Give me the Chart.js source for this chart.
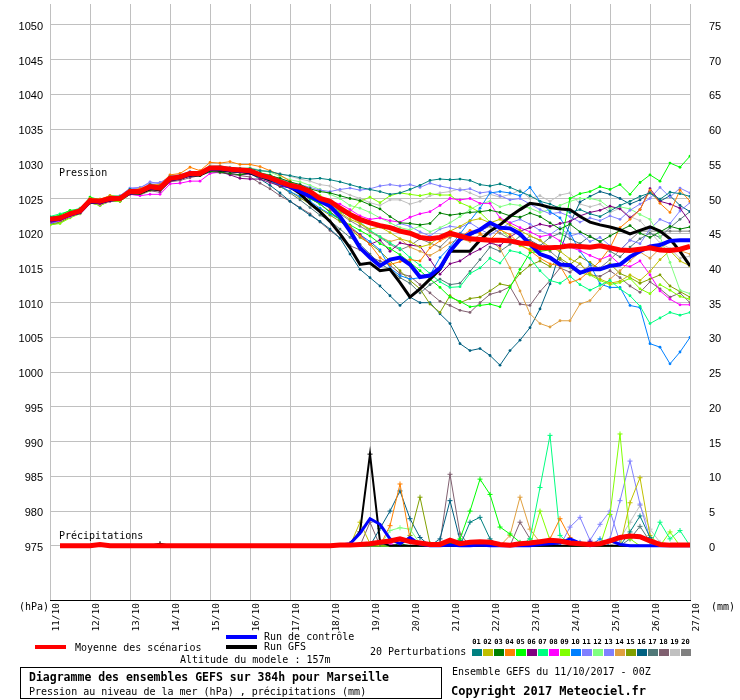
<!DOCTYPE html>
<html>
<head>
<meta charset="utf-8">
<script src="https://cdn.jsdelivr.net/npm/chart.js@4"></script>
<style>
  body { margin: 0; background: #fff; }
  #wrap { position: relative; width: 740px; height: 700px; font-family: "DejaVu Sans Mono", monospace; font-size: 10px; color: #000; }
  #chart { position: absolute; left: 0; top: 0; }
  .t { position: absolute; white-space: nowrap; line-height: 10px; }
  .b { font-weight: bold; }
  .sample { position: absolute; height: 4px; }
  .pbox { position: absolute; top: 649px; width: 10px; height: 7px; }
  .pnum { position: absolute; top: 639px; width: 11px; font-size: 7px; font-weight: bold; line-height: 7px; text-align: center; }
  #box { position: absolute; left: 20px; top: 667px; width: 420px; height: 30px; border: 1px solid #000; }
</style>
</head>
<body>
<div id="wrap">
  <canvas id="chart" width="740" height="700"></canvas>
  <div class="t" style="left:59px;top:168px;">Pression</div>
  <div class="t" style="left:59px;top:531px;">Précipitations</div>
  <div class="t" style="left:19px;top:602px;">(hPa)</div>
  <div class="t" style="left:711px;top:602px;">(mm)</div>
  <div class="sample" style="left:35px;top:645px;width:31px;background:#ff0000;"></div>
  <div class="t" style="left:75px;top:643px;">Moyenne des scénarios</div>
  <div class="sample" style="left:226px;top:635px;width:31px;background:#0000ff;"></div>
  <div class="t" style="left:264px;top:632px;">Run de contrôle</div>
  <div class="sample" style="left:226px;top:645px;width:31px;background:#000;"></div>
  <div class="t" style="left:264px;top:642px;">Run GFS</div>
  <div class="t" style="left:180px;top:655px;">Altitude du modele : 157m</div>
  <div class="t" style="left:370px;top:647px;">20 Perturbations</div>
  <div id="perts"></div>
  <div id="box"></div>
  <div class="t b" style="left:29px;top:672px;font-size:11.5px;">Diagramme des ensembles GEFS sur 384h pour Marseille</div>
  <div class="t" style="left:29px;top:687px;">Pression au niveau de la mer (hPa) , précipitations (mm)</div>
  <div class="t" style="left:452px;top:667px;">Ensemble GEFS du 11/10/2017 - 00Z</div>
  <div class="t b" style="left:451px;top:686px;font-size:12px;">Copyright 2017 Meteociel.fr</div>
</div>
<script>
// time axis: one point every 6h over 384h
const days = ['11/10', '12/10', '13/10', '14/10', '15/10', '16/10', '17/10', '18/10', '19/10',
  '20/10', '21/10', '22/10', '23/10', '24/10', '25/10', '26/10', '27/10'];
const hours = [];
for (let h = 0; h <= 384; h += 6) hours.push(h);

const pressTicks = [975, 980, 985, 990, 995, 1000, 1005, 1010, 1015, 1020, 1025, 1030, 1035, 1040, 1045, 1050];
const rainTicks = [0, 5, 10, 15, 20, 25, 30, 35, 40, 45, 50, 55, 60, 65, 70, 75];

const pertNames = ['01', '02', '03', '04', '05', '06', '07', '08', '09', '10',
  '11', '12', '13', '14', '15', '16', '17', '18', '19', '20'];
const pertColors = ['#008080', '#c0c000', '#008000', '#ff8000', '#00ff00', '#800080', '#00ff80', '#ff00ff', '#80ff00', '#0080ff',
  '#8080ff', '#80ff80', '#8080ff', '#e0a040', '#80a000', '#006080', '#507878', '#806070', '#c0c0c0', '#808080'];

// pressure (hPa)
const pressMean = [1022.0,1022.2,1022.8,1023.2,1024.7, 1024.6,1025.0,1025.0,1026.0,1026.0, 1026.7,1026.5,1027.9,1028.1,1028.6,
  1028.6,1029.4,1029.4,1029.2,1029.1, 1029.0,1028.4,1028.0,1027.4,1026.9, 1026.6,1026.0,1025.0,1024.6,1023.6,
  1022.7,1022.0,1021.5,1021.1,1020.8, 1020.3,1020.0,1019.4,1019.2,1019.4, 1020.0,1019.6,1019.2,1019.1,1019.0,
  1019.0,1018.9,1018.6,1018.5,1017.9, 1017.9,1018.0,1018.2,1018.1,1018.0, 1018.2,1017.9,1017.6,1017.5,1017.7,
  1017.9,1017.6,1017.5,1017.7,1018.1];
const pressCtrl = [1021.8,1022.1,1022.7,1023.1,1024.6, 1024.5,1024.9,1025.0,1025.9,1026.0, 1026.6,1026.5,1027.8,1028.0,1028.5,
  1028.6,1029.3,1029.3,1029.1,1029.0, 1028.9,1028.3,1027.9,1027.2,1026.7, 1026.0,1025.3,1024.6,1023.9,1022.4,
  1020.3,1017.9,1016.5,1015.3,1016.2, 1016.5,1015.5,1013.7,1013.9,1015.0, 1017.4,1019.1,1019.9,1020.5,1021.5,
  1020.8,1020.7,1019.9,1018.4,1017.0, 1016.5,1015.5,1015.4,1014.3,1014.8, 1014.8,1015.3,1015.5,1016.6,1017.4,
  1018.1,1018.3,1018.9,1019.0,1019.0];
const pressGfs = [1021.9,1022.0,1022.7,1023.0,1024.5, 1024.4,1024.8,1024.9,1025.8,1025.8, 1026.4,1026.3,1027.7,1027.9,1028.4,
  1028.4,1029.2,1029.1,1029.0,1028.9, 1028.7,1028.2,1027.7,1027.3,1026.7, 1025.7,1024.3,1023.1,1021.7,1019.9,
  1017.9,1015.5,1015.7,1014.6,1014.8, 1012.9,1010.8,1012.0,1013.4,1014.8, 1017.4,1017.4,1017.4,1019.0,1020.3,
  1021.2,1022.4,1023.4,1024.3,1024.1, 1023.7,1023.5,1023.4,1022.4,1021.6, 1021.2,1020.9,1020.5,1019.9,1020.4,
  1020.9,1020.3,1019.2,1017.4,1015.3];

const pressP01 = [1022.3,1022.4,1023.0,1023.4,1024.9, 1024.5,1025.2,1025.1,1026.3,1026.2, 1027.0,1026.8,1028.1,1028.3,1028.7,
  1028.8,1029.5,1029.6,1029.4,1029.3, 1029.3,1029.0,1028.9,1028.5,1028.3, 1028.0,1027.8,1027.9,1027.7,1027.4,
  1027.0,1026.6,1026.3,1026.0,1025.6, 1025.8,1026.3,1026.9,1027.6,1027.8, 1027.7,1027.8,1027.6,1027.0,1026.8,
  1027.1,1026.6,1026.0,1025.4,1024.6, 1024.2,1023.6,1023.0,1023.4,1022.8, 1022.4,1023.2,1024.0,1024.6,1025.3,
  1025.8,1024.9,1025.9,1025.7,1025.3];
const pressP02 = [1021.6,1021.9,1022.6,1023.0,1024.5, 1024.4,1024.8,1024.8,1025.8,1025.8, 1026.5,1026.3,1027.7,1027.9,1028.4,
  1028.4,1029.2,1029.2,1029.0,1028.9, 1028.8,1028.2,1027.6,1027.0,1026.6, 1026.0,1025.4,1024.7,1023.9,1023.0,
  1022.0,1021.4,1020.6,1020.9,1020.1, 1019.2,1018.8,1018.0,1018.4,1019.5, 1020.3,1021.0,1021.8,1022.1,1021.5,
  1022.0,1021.2,1020.4,1019.6,1019.0, 1018.0,1017.4,1016.3,1015.6,1014.2, 1013.4,1012.8,1013.1,1014.0,1013.2,
  1014.5,1016.2,1017.5,1016.0,1015.3];
const pressP03 = [1021.9,1022.1,1022.8,1023.1,1024.6, 1024.6,1024.9,1025.0,1025.9,1025.9, 1026.6,1026.4,1027.8,1028.0,1028.4,
  1028.3,1028.9,1028.8,1028.6,1028.4, 1028.6,1028.6,1028.3,1027.9,1027.4, 1027.0,1026.4,1026.0,1025.8,1025.4,
  1025.0,1024.7,1024.1,1023.5,1022.4, 1021.5,1021.4,1021.2,1021.4,1022.9, 1022.6,1022.8,1023.0,1023.1,1023.3,
  1023.0,1022.5,1022.3,1022.9,1022.4, 1021.5,1020.6,1021.3,1020.2,1019.5, 1018.8,1019.6,1020.4,1021.1,1020.0,
  1019.4,1020.2,1021.0,1020.6,1020.9];
const pressP04 = [1021.8,1022.3,1022.9,1023.5,1025.0, 1024.9,1025.4,1025.2,1026.2,1026.4, 1027.0,1027.0,1028.4,1028.6,1029.5,
  1029.0,1030.2,1030.1,1030.3,1029.9, 1029.9,1029.6,1029.0,1028.4,1027.5, 1026.6,1025.6,1024.8,1023.5,1022.4,
  1021.0,1019.6,1018.4,1016.5,1015.5, 1015.9,1016.2,1016.0,1017.9,1018.9, 1019.6,1019.4,1020.4,1020.0,1019.0,
  1020.5,1019.8,1018.4,1017.5,1016.4, 1015.6,1015.3,1012.9,1013.4,1014.6, 1016.0,1017.9,1020.8,1022.0,1023.4,
  1026.2,1024.3,1023.0,1026.2,1024.6];
const pressP05 = [1022.3,1022.6,1023.3,1023.4,1025.2, 1024.8,1025.4,1025.3,1026.1,1026.3, 1026.9,1026.8,1028.0,1028.3,1028.6,
  1028.9,1029.5,1029.2,1029.0,1028.9, 1028.8,1028.5,1028.2,1027.3,1026.8, 1026.0,1025.0,1024.2,1023.0,1022.0,
  1021.2,1020.4,1019.6,1018.5,1017.8, 1016.9,1015.8,1014.6,1013.4,1012.2, 1010.8,1010.2,1009.4,1009.6,1009.8,
  1009.4,1012.2,1014.8,1017.2,1017.4, 1017.6,1018.0,1025.0,1025.7,1026.0, 1026.7,1026.3,1027.0,1025.6,1027.3,
  1028.4,1027.5,1030.1,1029.5,1031.1];
const pressP06 = [1021.6,1021.9,1022.5,1023.0,1024.4, 1024.3,1024.7,1024.8,1025.7,1025.7, 1026.3,1026.1,1027.5,1027.8,1028.2,
  1028.3,1029.0,1028.9,1028.4,1027.9, 1027.8,1027.8,1027.3,1026.8,1026.5, 1025.8,1025.0,1024.2,1023.1,1022.0,
  1020.7,1019.8,1018.4,1019.0,1017.4, 1018.6,1018.3,1018.1,1016.2,1014.1, 1015.6,1016.0,1017.0,1017.7,1018.6,
  1018.2,1019.5,1020.3,1020.8,1021.3, 1021.0,1021.4,1021.7,1022.5,1023.0, 1023.3,1023.9,1023.5,1022.2,1023.4,
  1026.4,1024.6,1024.2,1023.6,1021.6];
const pressP07 = [1022.4,1022.8,1023.2,1023.6,1025.0, 1024.9,1025.2,1025.2,1026.3,1026.1, 1026.8,1026.6,1028.2,1028.2,1028.8,
  1028.7,1029.6,1029.5,1029.3,1029.3, 1029.2,1028.7,1028.4,1027.7,1027.0, 1026.5,1025.6,1024.9,1024.0,1023.1,
  1022.5,1021.6,1020.4,1019.5,1018.6, 1017.8,1016.5,1015.4,1014.2,1013.0, 1012.2,1012.3,1014.2,1015.0,1016.4,
  1015.7,1017.5,1017.2,1016.4,1014.6, 1013.2,1012.8,1013.8,1012.6,1011.8, 1012.5,1013.2,1012.0,1011.0,1009.5,
  1007.0,1007.8,1008.6,1008.2,1008.6];
const pressP08 = [1021.5,1021.8,1022.4,1022.9,1024.4, 1024.2,1024.6,1024.8,1025.6,1025.4, 1025.6,1025.6,1027.1,1027.2,1027.5,
  1027.5,1028.6,1028.8,1028.6,1028.4, 1028.5,1028.2,1027.8,1027.4,1026.8, 1026.2,1025.7,1025.0,1024.6,1024.2,
  1023.4,1022.5,1022.0,1022.2,1021.8, 1021.6,1022.3,1022.8,1023.1,1024.0, 1025.0,1024.8,1025.0,1024.3,1024.3,
  1022.2,1021.5,1020.8,1020.2,1019.5, 1019.8,1018.9,1018.0,1017.5,1016.8, 1016.2,1016.8,1015.5,1015.2,1016.0,
  1014.0,1011.7,1010.5,1009.7,1009.7];
const pressP09 = [1021.2,1021.4,1022.2,1022.8,1024.4, 1024.0,1024.6,1024.6,1025.6,1025.6, 1026.2,1026.3,1027.5,1027.9,1028.3,
  1028.4,1029.1,1029.1,1028.9,1028.8, 1028.7,1028.2,1027.8,1027.2,1026.8, 1026.5,1026.0,1025.4,1024.5,1023.6,
  1023.1,1024.6,1025.2,1024.4,1025.4, 1025.8,1025.6,1025.4,1025.7,1025.5, 1025.5,1024.4,1023.8,1023.0,1021.6,
  1020.6,1019.3,1018.2,1017.7,1016.9, 1016.5,1015.6,1015.2,1014.3,1014.0, 1013.2,1012.6,1012.9,1013.5,1012.0,
  1011.3,1012.6,1011.8,1010.9,1010.5];
const pressP10 = [1021.4,1021.8,1022.6,1023.0,1024.4, 1024.4,1024.9,1024.8,1025.9,1025.8, 1026.5,1026.3,1027.8,1028.0,1028.4,
  1028.5,1029.2,1029.2,1029.0,1028.9, 1028.7,1028.1,1027.5,1026.8,1026.0, 1025.3,1024.6,1023.6,1022.8,1022.0,
  1021.0,1019.8,1018.8,1017.6,1015.0, 1013.9,1013.4,1013.6,1014.0,1016.5, 1018.0,1019.9,1021.8,1023.6,1025.8,
  1026.0,1025.8,1025.4,1026.6,1024.6, 1023.1,1022.2,1020.0,1017.4,1015.5, 1012.7,1012.2,1012.2,1009.6,1009.3,
  1004.1,1003.6,1001.2,1002.9,1005.0];
const pressP11 = [1021.7,1022.0,1022.7,1023.3,1024.8, 1024.8,1025.3,1025.4,1026.5,1026.6, 1027.2,1027.3,1028.1,1028.2,1028.5,
  1028.7,1029.1,1029.0,1028.9,1028.9, 1028.8,1028.5,1028.1,1027.6,1027.3, 1027.0,1026.6,1026.2,1026.0,1026.3,
  1026.5,1026.2,1026.4,1026.8,1027.0, 1026.8,1027.0,1026.6,1027.2,1026.8, 1026.5,1026.2,1026.4,1025.8,1026.0,
  1025.4,1024.8,1025.0,1024.2,1023.4, 1022.8,1023.0,1022.4,1021.6,1022.2, 1021.8,1022.5,1022.0,1023.3,1024.2,
  1025.0,1026.6,1025.2,1026.5,1025.8];
const pressP12 = [1022.2,1022.5,1023.1,1023.4,1024.9, 1024.8,1025.1,1025.2,1026.2,1026.3, 1026.9,1026.8,1028.0,1028.2,1028.7,
  1028.8,1029.4,1029.6,1029.3,1029.3, 1029.4,1029.0,1028.8,1028.2,1027.7, 1027.4,1026.9,1026.3,1025.6,1025.0,
  1024.0,1023.6,1023.0,1022.2,1021.5, 1020.8,1020.5,1021.0,1020.2,1020.8, 1021.5,1022.4,1023.4,1024.2,1024.6,
  1023.8,1024.2,1024.0,1023.6,1023.0, 1023.4,1024.0,1024.6,1025.0,1025.0, 1024.7,1023.6,1023.8,1023.5,1022.7,
  1022.0,1019.5,1015.8,1011.8,1011.3];
const pressP13 = [1022.0,1022.1,1022.7,1023.2,1024.6, 1024.7,1025.1,1025.1,1026.4,1026.5, 1027.4,1027.1,1028.3,1028.4,1028.9,
  1028.7,1029.1,1029.2,1029.0,1028.9, 1028.9,1028.6,1028.2,1027.9,1027.4, 1026.6,1025.9,1025.1,1024.2,1023.4,
  1022.6,1021.8,1021.5,1021.0,1020.7, 1021.4,1021.0,1020.2,1019.6,1020.6, 1021.0,1020.8,1021.5,1020.6,1019.8,
  1020.6,1021.5,1022.0,1021.3,1020.4, 1019.8,1020.8,1019.6,1020.0,1018.8, 1019.4,1018.2,1017.5,1019.0,1018.5,
  1020.6,1022.0,1021.4,1023.2,1024.4];
const pressP14 = [1021.9,1022.1,1022.6,1023.1,1024.6, 1024.5,1024.8,1025.0,1025.8,1025.9, 1026.5,1026.4,1027.7,1027.8,1028.3,
  1028.4,1029.2,1029.3,1029.1,1029.0, 1029.1,1028.7,1028.3,1027.8,1027.2, 1026.4,1025.7,1025.0,1024.2,1023.2,
  1022.4,1021.4,1020.3,1019.5,1018.8, 1019.2,1018.0,1017.4,1016.8,1017.6, 1018.6,1019.2,1018.8,1019.8,1019.0,
  1017.8,1015.0,1011.7,1008.4,1007.0, 1006.5,1007.4,1007.4,1009.8,1010.3, 1012.0,1013.4,1014.6,1016.0,1017.3,
  1016.4,1017.8,1018.8,1017.5,1017.0];
const pressP15 = [1021.3,1021.6,1022.3,1022.9,1024.3, 1024.2,1024.8,1024.6,1025.6,1025.7, 1026.4,1026.2,1027.6,1027.9,1028.4,
  1028.4,1029.1,1029.0,1028.8,1028.7, 1028.6,1028.0,1027.5,1026.7,1026.0, 1025.1,1024.2,1023.5,1022.6,1021.7,
  1020.6,1019.4,1018.5,1017.4,1016.0, 1014.6,1013.2,1012.0,1009.8,1008.6, 1011.0,1010.0,1010.6,1010.8,1011.7,
  1012.7,1012.4,1014.2,1015.4,1016.0, 1015.2,1016.4,1015.5,1016.6,1015.8, 1014.8,1015.6,1014.2,1013.6,1012.8,
  1013.4,1014.0,1012.4,1011.6,1010.8];
const pressP16 = [1021.6,1021.9,1022.6,1023.1,1024.5, 1024.3,1024.8,1024.9,1025.8,1025.8, 1026.4,1026.4,1027.7,1027.9,1028.4,
  1028.5,1029.2,1029.2,1028.9,1028.8, 1028.6,1027.8,1026.9,1025.8,1024.6, 1023.6,1022.6,1021.7,1020.6,1019.3,
  1017.0,1014.8,1013.6,1012.4,1011.0, 1009.6,1010.8,1010.0,1010.0,1008.4, 1007.0,1004.1,1003.1,1003.4,1002.4,
  1001.0,1003.1,1004.6,1006.4,1009.1, 1012.7,1017.4,1021.4,1024.5,1025.3, 1026.0,1025.6,1025.0,1024.2,1024.8,
  1025.8,1024.6,1025.4,1024.0,1023.1];
const pressP17 = [1021.8,1022.0,1022.6,1023.1,1024.6, 1024.5,1024.9,1025.0,1025.9,1026.0, 1026.6,1026.5,1027.8,1028.0,1028.5,
  1028.4,1029.2,1029.4,1029.2,1029.0, 1028.9,1028.3,1027.6,1026.8,1025.8, 1024.8,1023.7,1022.6,1021.8,1020.6,
  1019.4,1018.4,1017.0,1015.6,1014.8, 1013.6,1012.8,1011.4,1012.6,1013.4, 1012.6,1012.8,1014.5,1016.2,1018.0,
  1017.4,1018.4,1019.6,1019.0,1018.2, 1019.4,1020.0,1019.2,1018.5,1019.6, 1018.8,1017.4,1016.6,1018.0,1019.2,
  1020.0,1019.4,1020.8,1022.0,1023.1];
const pressP18 = [1021.2,1021.5,1022.4,1022.8,1024.4, 1024.0,1024.6,1024.6,1025.6,1025.5, 1026.1,1025.9,1027.4,1027.6,1028.0,
  1028.3,1028.8,1028.7,1028.5,1028.3, 1028.1,1027.2,1026.4,1025.4,1024.6, 1023.7,1022.8,1021.6,1020.4,1019.3,
  1018.2,1017.6,1016.6,1016.0,1015.4, 1014.2,1013.8,1012.6,1011.4,1010.2, 1009.6,1008.9,1008.6,1010.0,1011.2,
  1011.6,1012.3,1009.8,1009.6,1011.6, 1013.2,1015.0,1014.4,1015.6,1014.0, 1013.8,1014.6,1013.6,1012.4,1011.5,
  1013.0,1012.0,1010.8,1011.4,1010.0];
const pressP19 = [1022.1,1022.3,1022.9,1023.2,1024.8, 1024.7,1025.2,1025.1,1026.2,1026.1, 1026.8,1026.7,1028.0,1028.3,1028.8,
  1028.9,1029.8,1029.7,1029.5,1029.4, 1029.4,1029.1,1028.8,1028.6,1028.2, 1027.8,1027.5,1027.0,1026.8,1026.1,
  1025.5,1025.0,1024.4,1024.0,1024.8, 1024.8,1024.2,1024.6,1025.4,1025.8, 1026.0,1026.4,1025.8,1025.2,1025.6,
  1025.2,1025.6,1026.2,1025.0,1025.4, 1024.6,1025.5,1025.8,1024.2,1023.8, 1024.2,1023.0,1023.6,1022.4,1021.8,
  1020.2,1018.6,1017.8,1016.4,1016.7];
const pressP20 = [1021.9,1022.0,1022.7,1023.1,1024.5, 1024.4,1024.9,1024.9,1025.8,1025.9, 1026.6,1026.5,1027.8,1028.1,1028.6,
  1028.6,1029.6,1029.7,1029.4,1029.2, 1029.1,1028.6,1028.0,1027.2,1026.6, 1025.8,1025.2,1024.6,1023.7,1022.8,
  1021.8,1021.0,1020.2,1019.4,1018.4, 1017.6,1018.2,1019.2,1018.6,1018.0, 1019.4,1020.0,1019.6,1020.4,1021.0,
  1020.0,1019.2,1018.4,1019.6,1019.0, 1017.4,1016.2,1015.0,1014.2,1015.4, 1015.0,1016.2,1017.6,1019.0,1020.3,
  1020.3,1020.3,1020.3,1020.3,1020.3];

// 6h precipitation (mm), no value at the start time
const rainMean = [null,0,0,0,0,0.2,0,0,0,0,0,0,0,
  0,0,0,0,0,0,0,0,0,0,0,0,0,
  0,0,0,0.1,0.1,0.2,0.3,0.5,0.7,1.0,0.6,0.4,0.2,
  0.2,0.8,0.3,0.5,0.6,0.5,0.2,0.1,0.3,0.4,0.6,0.8,0.7,
  0.4,0.3,0.2,0.3,0.7,1.2,1.4,1.3,0.7,0.2,0.1,0.1,0.1];
const rainCtrl = [null,0,0,0,0,0.1,0,0,0,0,0,0,0,
  0,0,0,0,0,0,0,0,0,0,0,0,0,
  0,0,0,0.1,0.3,1.8,3.9,3.1,1.0,0.3,1.2,0.2,0,
  0,0.1,0,0,0.1,0,0,0,0,0,0.2,0.3,0.4,
  1.0,0.4,0,0.3,0.8,0.2,0,0,0,0,0,0,0];
const rainGfs = [null,0,0,0,0,0,0,0,0,0,0,0.3,0,
  0,0,0,0,0,0,0,0,0,0,0,0,0,
  0,0,0,0,0.3,2.0,13.2,0.6,0,0,0,0,0,
  0,0,0,0,0,0,0,0,0,0,0,0,0,
  0,0,0,0,0,0,0,0,0,0,0,0,0];

const rainP01 = [null,0,0,0,0,0,0,0,0,0,0,0,0, 0,0,0,0,0,0,0,0,0,0,0,0,0,
  0,0,0,0,0,0,0,0.3,0,0,0,0,0, 0,0,0,3.4,4.1,1.0,0,0,0,0,0,0,0, 0,0,0,0,0,0,2.0,4.3,1.2,0,0,0,0];
const rainP02 = [null,0,0,0,0,0,0,0,0,0,0,0,0, 0,0,0,0,0,0,0,0,0,0,0,0,0,
  0,0,0,0,0,3.4,0.3,0,0,0,0,0,0, 0,0,0,0,0,0,0,0,0,0,0,0,0, 0,0,0,0,0,0,6.2,9.8,1.5,0,0,0,0];
const rainP03 = [null,0,0,0,0,0,0,0,0,0,0,0,0, 0,0,0,0,0,0,0,0,0,0,0,0,0,
  0,0,0,0,0,0,0,0,0,0.3,0,0,0, 0,0.4,0,0,0,0,0,0,0,0,0,0.3,0, 0,0,0,0,0,0,0,0,0,0,0,0,0];
const rainP04 = [null,0,0,0,0,0,0,0,0,0,0,0,0, 0,0,0,0,0,0,0,0,0,0,0,0,0,
  0,0,0,0,0,0,0,0,2.9,8.9,1.0,0,0, 0,0,0,0,0,0,0,0,0,0,0,1.0,3.9, 1.2,0,0,0,0,0,0,0,0,0,0,0,0];
const rainP05 = [null,0,0,0,0,0,0,0,0,0,0,0,0, 0,0,0,0,0,0,0,0,0,0,0,0,0,
  0,0,0,0,0,0,0,0,0,0,0,0,0, 0,0,1.0,5.0,9.6,7.4,2.7,1.7,0.5,0,0,0,0, 0,0,0,0,0,0,0,0,0,0,0,0,0];
const rainP06 = [null,0,0,0,0,0,0,0,0,0,0,0,0, 0,0,0,0,0,0,0,0,0,0,0,0,0,
  0,0,0,0,0,0,0,0.2,0,0,0,0,0, 0,0,0,0,0,0,0,0,0,0,0,0,0, 0,0,0.6,0,0,0,0,0,0,0,0,0,0];
const rainP07 = [null,0,0,0,0,0,0,0,0,0,0,0,0, 0,0,0,0,0,0,0,0,0,0,0,0,0,
  0,0,0,0,0,0,0,0,0,0,0,0,0, 0,0,0,0,0,0,0,0,0,1.0,8.4,15.9,1.5, 0.2,0,0,0,0,0,0,0,0,3.4,1.0,2.2,0];
const rainP08 = [null,0,0,0,0,0,0,0,0,0,0,0,0, 0,0,0,0,0,0,0,0,0,0,0,0,0,
  0,0,0,0,0,0,0,0.5,0.3,0,0,0,0, 0,0,0,0,0,0,0,0,0,0,0,0,0, 0,0,0,0,0,0,0,0,0,0,0,0,0];
const rainP09 = [null,0,0,0,0,0,0,0,0,0,0,0,0, 0,0,0,0,0,0,0,0,0,0,0,0,0,
  0,0,0,0,0,0,0,0,0,0,0,0,0, 0,0,0,0,0,0,0,0,0,0,5.0,0.8,0, 0,0,0,0,4.5,16.1,1.0,0,0,0,2.0,0,0];
const rainP10 = [null,0,0,0,0,0,0,0,0,0,0,0,0, 0,0,0,0,0,0,0,0,0,0,0,0,0,
  0,0,0,0,0,0,0,0.4,0,0,0,0,0, 0,0,0,0,0,0,0,0,0,0,0,0,0, 0,0.5,0,1.0,0,0,0,0,0,0,0,0,0];
const rainP11 = [null,0,0,0,0,0,0,0,0,0,0,0,0, 0,0,0,0,0,0,0,0,0,0,0,0,0,
  0,0,0,0,0,0,0,0,0,0,0,0,0, 0,0,0,0,0,0,0,0,0,0,0,0,0, 2.7,4.1,0.8,3.1,5.0,0.5,0,0,0,0,0,0,0];
const rainP12 = [null,0,0,0,0,0,0,0,0,0,0,0,0, 0,0,0,0,0,0,0,0,0,0,0,0,0,
  0,0,0,0,0,0,0,0,2.2,2.6,2.4,0.3,0, 0,0,0,0,0,0,0,0,0,0,0,0,0, 0,0,0,0,0,0,0,0,0,0,0,0,0];
const rainP13 = [null,0,0,0,0,0,0,0,0,0,0,0,0, 0,0,0,0,0,0,0,0,0,0,0,0,0,
  0,0,0,0,0,0,0,0,0,0,0,0,0, 0,0,0,0,0,0,0,0,0,0,0,0,0, 0,0,0,0,1.0,6.5,12.2,6.0,1.0,0,0,0,0];
const rainP14 = [null,0,0,0,0,0,0,0,0,0,0,0,0, 0,0,0,0,0,0,0,0,0,0,0,0,0,
  0,0,0,0,0,0,0,0,0,0,0,0,0, 0,0,0,0,0,0,0,1.5,7.0,2.4,0.5,0,0, 0,0,0,0,0,0,0,0,0,0,0,0,0];
const rainP15 = [null,0,0,0,0,0,0,0,0,0,0,0,0, 0,0,0,0,0,0,0,0,0,0,0,0,0,
  0,0,0,0,0,0,0,0,0,0,1.5,7.0,0.3, 0,0,0,0,0,0,0,0,0,0,0,0,0, 0,0,0,0,0,0,0,0,0,0,0,0,0];
const rainP16 = [null,0,0,0,0,0,0,0,0,0,0,0,0, 0,0,0,0,0,0,0,0,0,0,0,0,0,
  0,0,0,0,0,0,0,2.5,5.0,7.9,3.9,1.2,0, 1.0,6.5,0.8,0,0,0,0,0,0,0,0,0,0, 0,0,0,0,0,0,0,0,0,0,0,0,0];
const rainP17 = [null,0,0,0,0,0,0,0,0,0,0,0,0, 0,0,0,0,0,0,0,0,0,0,0,0,0,
  0,0,0,0,0,0,0,0,0,0,0,0,0, 0,0,0,0,0,0,0,0,0,0,0,0,0, 0,0,0,0,0,0,1.0,2.8,0.6,0,0,0,0];
const rainP18 = [null,0,0,0,0,0,0,0,0,0,0,0,0, 0,0,0,0,0,0,0,0,0,0,0,0,0,
  0,0,0,0,0,0,3.4,0,0,0,0,0,0, 0.5,10.3,1.7,0,0,0,0,0,3.4,1.0,0,0,0, 0,0,0,0,0,0,0,0,0,0,0,0,0];
const rainP19 = [null,0,0,0,0,0,0,0,0,0,0,0,0, 0,0,0,0,0,0,0,0,0,0,0,0,0,
  0,0,0,0,0,0,0,0,0,0,0,0,0, 0,0,0,0,0,0,0,0,0,0,0,0,0, 0,0,0,0,0,1.0,3.4,5.8,2.4,0.5,0,0,0];
const rainP20 = [null,0,0,0,0,0,0,0,0,0,0,0,0, 0,0,0,0,0,0,0,0,0,0,0,0,0,
  0,0,0,0,0,0,0,0.4,0,0,0,0,0, 0,0,0,0,0,0,0,0,0,0,0.3,0,0, 0,0,0,0,0,0,0,0,0,0,0,0,0];

const pressPerts = [pressP01, pressP02, pressP03, pressP04, pressP05, pressP06, pressP07, pressP08, pressP09, pressP10,
  pressP11, pressP12, pressP13, pressP14, pressP15, pressP16, pressP17, pressP18, pressP19, pressP20];
const rainPerts = [rainP01, rainP02, rainP03, rainP04, rainP05, rainP06, rainP07, rainP08, rainP09, rainP10,
  rainP11, rainP12, rainP13, rainP14, rainP15, rainP16, rainP17, rainP18, rainP19, rainP20];

// legend boxes for the 20 members
const perts = document.getElementById('perts');
pertNames.forEach((name, k) => {
  const num = document.createElement('div');
  num.className = 'pnum';
  num.style.left = (471 + k * 11) + 'px';
  num.textContent = name;
  perts.appendChild(num);
  const box = document.createElement('div');
  box.className = 'pbox';
  box.style.left = (472 + k * 11) + 'px';
  box.style.background = pertColors[k];
  perts.appendChild(box);
});

function points(vals) {
  return vals.map((v, i) => ({ x: hours[i], y: v }));
}

// rain markers only where it actually rains
const rainMarker = ctx => (ctx.raw && ctx.raw.y > 0.05 ? 2.5 : 0);

const datasets = [
  { data: points(pressMean), yAxisID: 'y', borderColor: '#ff0000', borderWidth: 5, pointRadius: 0, order: 1 },
  { data: points(rainMean), yAxisID: 'y2', borderColor: '#ff0000', borderWidth: 5, pointRadius: 0, order: 1 },
  { data: points(pressCtrl), yAxisID: 'y', borderColor: '#0000ff', borderWidth: 4, pointRadius: 0, order: 2 },
  { data: points(rainCtrl), yAxisID: 'y2', borderColor: '#0000ff', borderWidth: 3, pointRadius: 0, order: 2 },
  { data: points(pressGfs), yAxisID: 'y', borderColor: '#000000', borderWidth: 3, pointRadius: 0, order: 3 },
  { data: points(rainGfs), yAxisID: 'y2', borderColor: '#000000', borderWidth: 2, pointStyle: 'cross',
    pointRadius: rainMarker, pointBorderColor: '#000000', pointBorderWidth: 1, order: 3 }
];
pressPerts.forEach((vals, k) => {
  datasets.push({
    data: points(vals), yAxisID: 'y', borderColor: pertColors[k], borderWidth: 1,
    pointRadius: 1.4, pointBackgroundColor: pertColors[k], pointBorderWidth: 0, order: 10 + k
  });
});
rainPerts.forEach((vals, k) => {
  datasets.push({
    data: points(vals), yAxisID: 'y2', borderColor: pertColors[k], borderWidth: 1, pointStyle: 'cross',
    pointRadius: rainMarker, pointBorderColor: pertColors[k], pointBorderWidth: 1, order: 10 + k
  });
});

const gridGrey = '#c0c0c0';
const tickFont = { family: 'Liberation Sans', size: 11 };

new Chart(document.getElementById('chart'), {
  type: 'line',
  data: { datasets: datasets },
  options: {
    responsive: false,
    animation: false,
    events: [],
    layout: { padding: 0 },
    elements: { line: { tension: 0, fill: false } },
    plugins: { legend: { display: false }, tooltip: { enabled: false } },
    scales: {
      x: {
        type: 'linear', min: 0, max: 384,
        afterBuildTicks: s => { s.ticks = days.map((d, k) => ({ value: k * 24 })); },
        afterFit: s => { s.height = 100; s.paddingLeft = 0; s.paddingRight = 0; },
        ticks: {
          callback: v => days[v / 24], autoSkip: false, minRotation: 90, maxRotation: 90,
          padding: 3, labelOffset: 7, color: '#000',
          font: { family: 'DejaVu Sans Mono', size: 9.5 }
        },
        grid: { color: gridGrey, drawTicks: false },
        border: { color: '#000', width: 1 }
      },
      y: {
        position: 'left', min: 967.2, max: 1053.0,
        afterBuildTicks: s => { s.ticks = pressTicks.map(v => ({ value: v })); },
        afterFit: s => { s.width = 50; s.paddingTop = 0; s.paddingBottom = 0; },
        ticks: { callback: v => String(v), padding: 7, labelOffset: 2, color: '#000', font: tickFont },
        grid: { color: gridGrey, drawTicks: false },
        border: { display: false }
      },
      y2: {
        position: 'right', min: -7.8, max: 78.0,
        afterBuildTicks: s => { s.ticks = rainTicks.map(v => ({ value: v })); },
        afterFit: s => { s.width = 50; s.paddingTop = 0; s.paddingBottom = 0; },
        ticks: { callback: v => String(v), padding: 19, labelOffset: 2, color: '#000', font: tickFont },
        grid: { display: false, drawTicks: false },
        border: { display: false }
      }
    }
  }
});
</script>
</body>
</html>
